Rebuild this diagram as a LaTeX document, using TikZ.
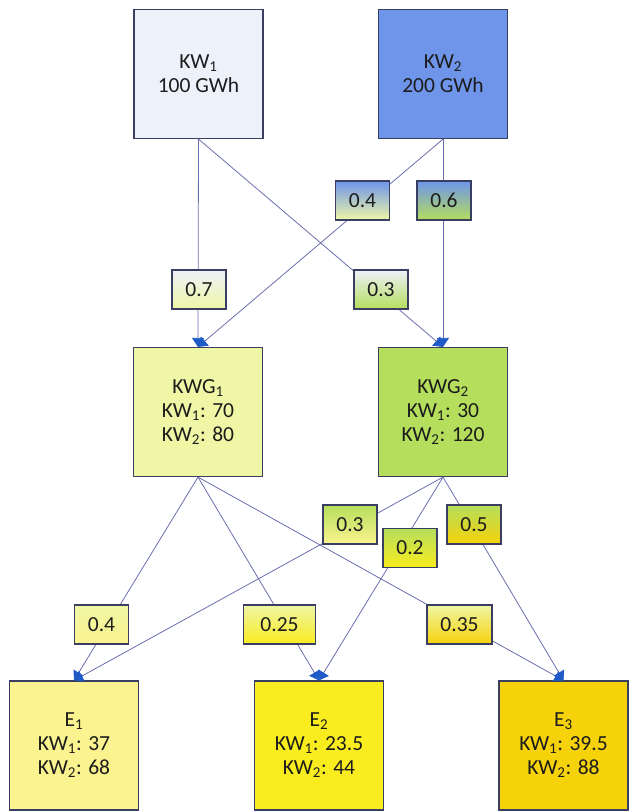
\documentclass[tikz,border=0pt]{standalone}
\usepackage{fontspec}
\setmainfont{Carlito}
\usetikzlibrary{arrows.meta}
\definecolor{cKWa}{HTML}{EDF1FA}
\definecolor{cKWb}{HTML}{6E95EA}
\definecolor{cKWGa}{HTML}{EFF6A5}
\definecolor{cKWGb}{HTML}{B5DE5C}
\definecolor{cEa}{HTML}{FBF38F}
\definecolor{cEb}{HTML}{F9EC1F}
\definecolor{cEc}{HTML}{F6D20A}
\definecolor{bordercol}{HTML}{3A3F62}
\definecolor{linecol}{HTML}{6A6EB0}
\definecolor{tipcol}{HTML}{1E5BC6}
\definecolor{textcol}{HTML}{1C1C1C}
\begin{document}
\begin{tikzpicture}[x=1pt,y=-1pt,
  box/.style={draw=bordercol, line width=1.2pt, minimum width=129pt, minimum height=129pt,
    inner sep=0pt, align=center, font=\fontsize{21.5}{24}\selectfont, text=textcol},
  lbl/.style={draw=bordercol, line width=1.2pt, minimum width=54pt, minimum height=39pt,
    inner sep=0pt, font=\fontsize{21.5}{24}\selectfont, text=textcol},
  conn/.style={draw=linecol, line width=0.8pt},
  arr/.style={conn, -{Triangle[width=12pt,length=9pt,color=tipcol]}}]
\useasboundingbox (0,0) rectangle (629,811);

% boxes
\node[box, fill=cKWa] (kw1) at (198.5,74) {KW\textsubscript{1}\\100 GWh};
\node[box, fill=cKWb] (kw2) at (443,74) {KW\textsubscript{2}\\200 GWh};
\node[box, fill=cKWGa] (kwg1) at (198,412) {KWG\textsubscript{1}\\KW\textsubscript{1}: 70\\KW\textsubscript{2}: 80};
\node[box, fill=cKWGb] (kwg2) at (443,412) {KWG\textsubscript{2}\\KW\textsubscript{1}: 30\\KW\textsubscript{2}: 120};
\node[box, fill=cEa] (e1) at (74,745.5) {E\textsubscript{1}\\KW\textsubscript{1}: 37\\KW\textsubscript{2}: 68};
\node[box, fill=cEb] (e2) at (319,745.5) {E\textsubscript{2}\\KW\textsubscript{1}: 23.5\\KW\textsubscript{2}: 44};
\node[box, fill=cEc] (e3) at (563.5,745.5) {E\textsubscript{3}\\KW\textsubscript{1}: 39.5\\KW\textsubscript{2}: 88};

% connectors
\draw[arr] (kw1.south) -- (kwg1.north);
\draw[arr] (kw1.south) -- (kwg2.north);
\draw[arr] (kw2.south) -- (kwg1.north);
\draw[arr] (kw2.south) -- (kwg2.north);
\draw[arr] (kwg1.south) -- (e1.north);
\draw[arr] (kwg1.south) -- (e2.north);
\draw[arr] (kwg1.south) -- (e3.north);
\draw[arr] (kwg2.south) -- (e1.north);
\draw[arr] (kwg2.south) -- (e2.north);
\draw[arr] (kwg2.south) -- (e3.north);

% labels
\node[lbl, top color=cKWb, bottom color=cKWGa] (l04a) at (362.5,200.5) {0.4};
\node[lbl, top color=cKWb, bottom color=cKWGb] (l06) at (444,200.5) {0.6};
\node[lbl, top color=cKWa, bottom color=cKWGa] (l07) at (199,289.5) {0.7};
\node[lbl, top color=cKWa, bottom color=cKWGb] (l03a) at (381,289.5) {0.3};
\node[lbl, top color=cKWGb, bottom color=cEa] (l03b) at (350,524.5) {0.3};
\node[lbl, top color=cKWGb, bottom color=cEc] (l05) at (474,524.5) {0.5};
\node[lbl, top color=cKWGb, bottom color=cEb] (l02) at (410,548) {0.2};
\node[lbl, top color=cKWGa, bottom color=cEa] (l04b) at (101.5,624.5) {0.4};
\node[lbl, top color=cKWGa, bottom color=cEb, minimum width=72pt] (l025) at (279.5,624.5) {0.25};
\node[lbl, top color=cKWGa, bottom color=cEc, minimum width=65pt] (l035) at (459.5,624.5) {0.35};
\end{tikzpicture}
\end{document}
